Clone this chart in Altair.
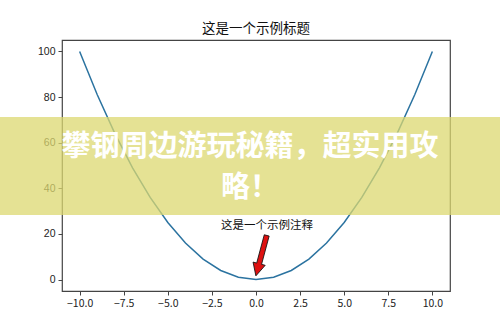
import altair as alt
import pandas as pd

# curve data
xs = [-10, -9, -8, -7, -6, -5, -4, -3, -2, -1, 0, 1, 2, 3, 4, 5, 6, 7, 8, 9, 10]
ys = [100, 81, 64, 49, 36, 25, 16, 9, 4, 1, 0, 1, 4, 9, 16, 25, 36, 49, 64, 81, 100]

x_ticks = [-10.0, -7.5, -5.0, -2.5, 0.0, 2.5, 5.0, 7.5, 10.0]
y_ticks = [0, 20, 40, 60, 80, 100]

title_text = "这是一个示例标题"
note_text = ["这是一个示例注释"]
note_x = [0.62]
note_y = [23.5]
arrow_mid_x = [0.3]
arrow_mid_y = [10.5]
banner_lines = ["攀钢周边游玩秘籍，超实用攻", "略！"]

curve = pd.DataFrame({"x": xs, "y": ys})
note = pd.DataFrame({"x": note_x, "y": note_y, "t": note_text})
arrow = pd.DataFrame({"x": arrow_mid_x, "y": arrow_mid_y})

xs_scale = alt.Scale(domain=[-11, 11], nice=False, zero=False)
ys_scale = alt.Scale(domain=[-5, 105], nice=False, zero=False)

x_axis = alt.Axis(values=x_ticks, format=".1f", title=None, grid=False,
                  tickSize=4, tickColor="#444", domain=False,
                  labelFont="Noto Sans CJK SC", labelFontSize=10.5,
                  labelColor="#222", labelPadding=3)
y_axis = alt.Axis(values=y_ticks, title=None, grid=False,
                  tickSize=4, tickColor="#444", domain=False,
                  labelFont="Liberation Sans", labelFontSize=10.5,
                  labelColor="#222", labelPadding=3)

line = alt.Chart(curve).mark_line(color="#2b73a0", strokeWidth=1.5).encode(
    x=alt.X("x:Q", scale=xs_scale, axis=x_axis),
    y=alt.Y("y:Q", scale=ys_scale, axis=y_axis),
)

note_mark = alt.Chart(note).mark_text(
    font="Noto Sans CJK SC", fontSize=11.5, color="#111", baseline="middle", align="center"
).encode(x=alt.X("x:Q", scale=xs_scale), y=alt.Y("y:Q", scale=ys_scale), text="t:N")

arrow_path = "M -0.12 -1 L 0.12 -1 L 0.12 0.4 L 0.3 0.4 L 0 1 L -0.3 0.4 L -0.12 0.4 Z"
arrow_mark = alt.Chart(arrow).mark_point(
    shape=arrow_path, filled=True, fill="#dd1111", stroke="#111", strokeWidth=0.8,
    size=1750, angle=15, opacity=1
).encode(x=alt.X("x:Q", scale=xs_scale), y=alt.Y("y:Q", scale=ys_scale))

banner = alt.Chart(pd.DataFrame({"a": [0]})).mark_rect(
    color="#dcd870", opacity=0.75
).encode(x=alt.value(-62), x2=alt.value(438), y=alt.value(77), y2=alt.value(175))

b1 = alt.Chart(pd.DataFrame({"a": [0]})).mark_text(
    text=banner_lines[0], font="Noto Sans CJK SC", fontSize=29, fontWeight="bold",
    color="white", align="center", baseline="middle"
).encode(x=alt.value(188), y=alt.value(107))
b2 = alt.Chart(pd.DataFrame({"a": [0]})).mark_text(
    text=banner_lines[1], font="Noto Sans CJK SC", fontSize=29, fontWeight="bold",
    color="white", align="center", baseline="middle"
).encode(x=alt.value(188), y=alt.value(148))

chart = alt.layer(line, note_mark, arrow_mark, banner, b1, b2).properties(
    width=388, height=251,
    padding={"left": 62, "top": 40, "right": 50, "bottom": 42},
    autosize="none",
    title=alt.TitleParams(title_text, font="Noto Sans CJK SC", fontSize=13.5,
                          fontWeight="normal", color="#111", offset=5, anchor="middle"),
    background="white",
).configure_view(stroke="#444", strokeWidth=1.2)

chart.save("out.html", embed_options={"renderer": "svg", "actions": False})
